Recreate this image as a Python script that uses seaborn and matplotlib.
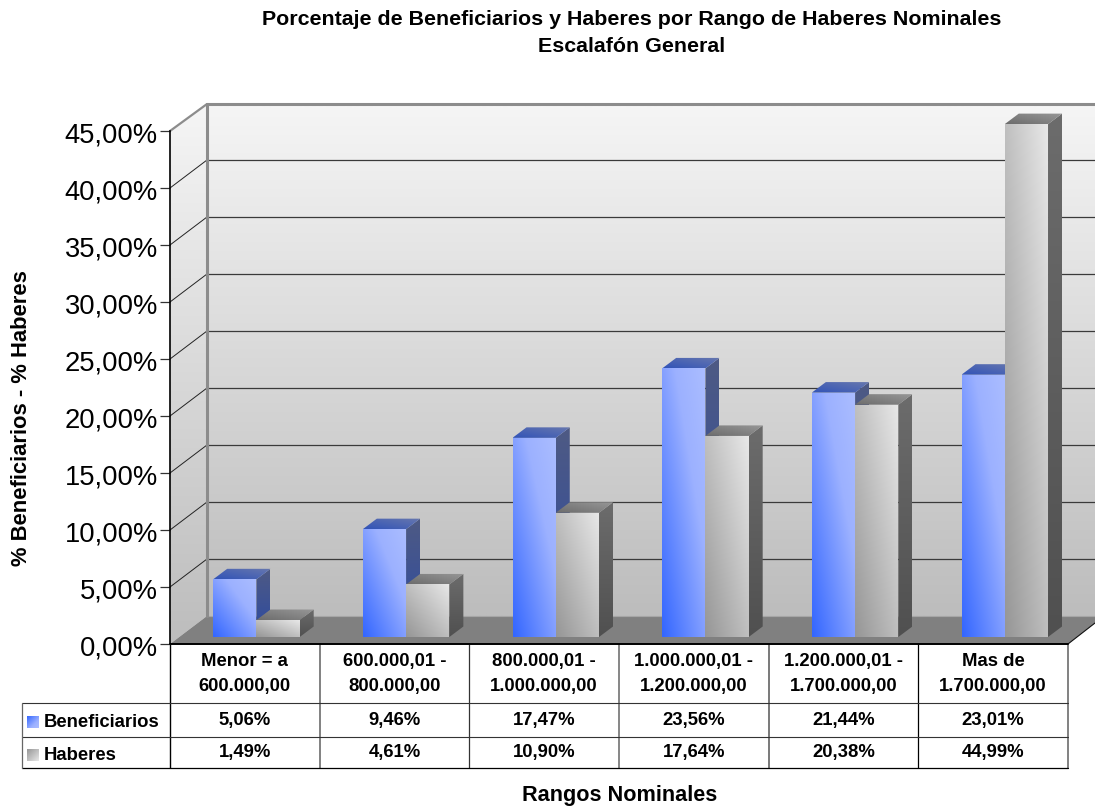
import numpy as np
import pandas as pd
import matplotlib
matplotlib.use("Agg")
import matplotlib.pyplot as plt
import seaborn as sns
from matplotlib.colors import to_rgb
from matplotlib.patches import Polygon
from matplotlib.ticker import FuncFormatter, MultipleLocator
from matplotlib.transforms import ScaledTranslation

categories = ["Menor = a\n600.000,00", "600.000,01 -\n800.000,00", "800.000,01 -\n1.000.000,00",
              "1.000.000,01 -\n1.200.000,00", "1.200.000,01 -\n1.700.000,00", "Mas de\n1.700.000,00"]
beneficiarios = [5.06, 9.46, 17.47, 23.56, 21.44, 23.01]
haberes = [1.49, 4.61, 10.90, 17.64, 20.38, 44.99]
series_names = ["Beneficiarios", "Haberes"]
title_text = "Porcentaje de Beneficiarios y Haberes por Rango de Haberes Nominales\nEscalafón General"
xlabel_text = "Rangos Nominales"
ylabel_text = "% Beneficiarios - % Haberes"

sns.set_theme(style="white")
plt.rcParams['font.family'] = ['Liberation Sans', 'DejaVu Sans']

W, H = 1095, 807
fig = plt.figure(figsize=(W / 100, H / 100), dpi=100, facecolor="white")


def frac(l, t, r, b):
    return [l / W, (H - b) / H, (r - l) / W, (b - t) / H]


def ramp(stops, n=64):
    ts = np.array([s[0] for s in stops])
    cols = np.array([to_rgb(s[1]) for s in stops])
    return lambda t: np.dstack([np.interp(t, ts, cols[:, i]) for i in range(3)])


def diag(n=64):
    u, v = np.meshgrid(np.linspace(0, 1, n), np.linspace(0, 1, n))
    return (u + v) / 2


def vert(n=64):
    return np.meshgrid(np.linspace(0, 1, 2), np.linspace(0, 1, n))[1]


def fill_poly(ax, pts, img, z):
    """Paint img (origin lower) on the bounding box of pts, clipped to the polygon."""
    pts = np.asarray(pts, float)
    x0, x1 = pts[:, 0].min(), pts[:, 0].max()
    y0, y1 = pts[:, 1].min(), pts[:, 1].max()
    if ax.yaxis_inverted():
        ext = (x0, x1, y1, y0)
    else:
        ext = (x0, x1, y0, y1)
    im = ax.imshow(img, extent=ext, origin="lower", aspect="auto", interpolation="bilinear", zorder=z)
    clip = Polygon(pts, closed=True, transform=ax.transData, fc="none", ec="none")
    im.set_clip_path(clip)
    return im


# ---------- background layer in figure pixels: walls, floor, table, texts
bg = fig.add_axes([0, 0, 1, 1], zorder=0)
bg.set_xlim(0, W)
bg.set_ylim(H, 0)
bg.set_autoscale_on(False)
bg.axis("off")

x_front, x_back, x_right = 170, 207, 1068
y_zero, y_floor, y_top_back, y_top_front = 644, 616, 104, 131
px_per_pct = (y_zero - y_top_front) / 45

wall = ramp([(0, "#bdbdbd"), (0.45, "#d6d6d6"), (1, "#f5f5f5")])
fill_poly(bg, [(x_back, y_floor), (W, y_floor), (W, y_top_back), (x_back, y_top_back)], wall(vert()), 1)
fill_poly(bg, [(x_front, y_zero), (x_back, y_floor), (x_back, y_top_back), (x_front, y_top_front)], wall(vert()), 1)
bg.add_patch(Polygon([(x_front, y_zero), (x_back, y_floor), (W, y_floor), (W, 623), (x_right, y_zero)],
                     closed=True, fc="#808080", ec="none", zorder=2))
bg.plot([x_back, W], [y_floor, y_floor], color="#a6a6a6", lw=0.8, zorder=3)

for k in np.arange(5, 45, 5):
    y_b = y_floor - k * px_per_pct
    y_f = y_zero - k * px_per_pct
    bg.plot([x_back, W], [y_b, y_b], color="#3a3a3a", lw=0.9, zorder=3)
    bg.plot([x_front, x_back], [y_f, y_b], color="#222222", lw=0.7, zorder=3)
bg.plot([x_back, x_back], [y_top_back, y_floor], color="#8c8c8c", lw=2.2, zorder=4)
bg.plot([x_back, W], [y_top_back, y_top_back], color="#8c8c8c", lw=2.2, zorder=4)
bg.plot([x_front, x_back], [y_top_front, y_top_back], color="#8c8c8c", lw=1.6, zorder=4)
bg.plot([x_right, W], [y_zero, 623], color="#111111", lw=0.8, zorder=4)

# table
col_x = np.linspace(x_front, x_right, len(categories) + 1)
row_y = [y_zero, 703, 736.5, 768]
leg_l = 22
col_colors = ["#000000", "#777777", "#333333", "#666666", "#555555", "#000000", "#777777"]
col_lw = [1.0, 1.3, 0.9, 1.1, 1.1, 0.9, 1.3]
for xc, cc, lw in zip(col_x, col_colors, col_lw):
    bg.plot([xc, xc], [y_zero, row_y[3]], color=cc, lw=lw, zorder=5, solid_capstyle="butt")
bg.plot([x_front, x_right], [y_zero, y_zero], color="#000000", lw=1.4, zorder=5)
bg.plot([leg_l, x_right], [row_y[1], row_y[1]], color="#333333", lw=0.8, zorder=5)
bg.plot([leg_l, x_right], [row_y[2], row_y[2]], color="#333333", lw=0.8, zorder=5)
bg.plot([leg_l, x_right], [row_y[3], row_y[3]], color="#000000", lw=0.9, zorder=5)
bg.plot([leg_l, leg_l], [row_y[1], row_y[3]], color="#666666", lw=0.9, zorder=5)

fs_cell = 13.3
centers = (col_x[:-1] + col_x[1:]) / 2
for cx, cat, b, h in zip(centers, categories, beneficiarios, haberes):
    bg.text(cx, 674, cat, ha="center", va="center", fontsize=fs_cell, fontweight="bold", color="black",
            linespacing=1.55, zorder=6)
    bg.text(cx, 721, f"{b:.2f}%".replace(".", ","), ha="center", va="center", fontsize=fs_cell,
            fontweight="bold", color="black", zorder=6)
    bg.text(cx, 753, f"{h:.2f}%".replace(".", ","), ha="center", va="center", fontsize=fs_cell,
            fontweight="bold", color="black", zorder=6)

blue_face = ramp([(0, "#3366ff"), (0.65, "#9cb1ff"), (1, "#abbdff")])
grey_face = ramp([(0, "#969696"), (1, "#e8e8e8")])
for name, yy, face in zip(series_names, (716, 749), (blue_face, grey_face)):
    fill_poly(bg, [(27, yy), (39, yy), (39, yy + 12), (27, yy + 12)], face(diag())[::-1], 6)
    bg.text(44, yy + 6.5, name, ha="left", va="center", fontsize=fs_cell, fontweight="bold", color="black", zorder=6)

bg.text(631.5, 33, title_text, ha="center", va="center", fontsize=15.4, fontweight="bold", color="black",
        linespacing=1.5, zorder=6)
bg.text(619.5, 795, xlabel_text, ha="center", va="center", fontsize=15.6, fontweight="bold", color="black", zorder=6)
bg.text(22, 418.5, ylabel_text, ha="center", va="center", rotation=90, fontsize=15.8, fontweight="bold",
        color="black", zorder=6)

# ---------- y axis with ticks
ay = fig.add_axes(frac(x_front, y_top_front, x_right, y_zero), zorder=2)
ay.patch.set_visible(False)
ay.set_ylim(0, 45)
ay.set_xticks([])
ay.yaxis.set_major_locator(MultipleLocator(5))
ay.yaxis.set_major_formatter(FuncFormatter(lambda v, _: f"{v:.2f}%".replace(".", ",")))
ay.tick_params(axis="y", left=True, length=7.2, width=0.9, color="#333333", pad=1.5, labelsize=19.7, labelcolor="black")
for s in ("top", "right", "bottom"):
    ay.spines[s].set_visible(False)
ay.spines["left"].set_color("black")
ay.spines["left"].set_linewidth(1.2)
label_shift = ScaledTranslation(0, -1 / 72, fig.dpi_scale_trans)
for lab in ay.get_yticklabels():
    lab.set_transform(lab.get_transform() + label_shift)

# ---------- bars: shifted into the box by the depth of the floor
bar_dx, bar_dy = 11.6, 7
y_room = 50
ax = fig.add_axes(frac(x_front + bar_dx, y_zero - bar_dy - y_room * px_per_pct, x_right + bar_dx, y_zero - bar_dy),
                  zorder=1)
df = pd.DataFrame({
    "Rango": categories * 2,
    "Porcentaje": beneficiarios + haberes,
    "Serie": [series_names[0]] * len(categories) + [series_names[1]] * len(categories),
})
sns.barplot(data=df, x="Rango", y="Porcentaje", hue="Serie", hue_order=series_names, order=categories,
            palette=["#7f99ff", "#c0c0c0"], width=0.578, gap=0, legend=False, saturation=1, ax=ax)
ax.set_xlim(-0.5, len(categories) - 0.5)
ax.set_ylim(0, y_room)
ax.set_autoscale_on(False)
ax.axis("off")

depth_x = 14 / (col_x[1] - col_x[0])
depth_y = 10.5 / px_per_pct

faces = [blue_face, grey_face]
sides = [ramp([(0, "#2c4aa3"), (1, "#4e5a84")]), ramp([(0, "#505050"), (1, "#6c6c6c")])]
tops = [ramp([(0, "#3153b8"), (1, "#6878ae")]), ramp([(0, "#6c6c6c"), (1, "#979797")])]

for c in range(len(categories)):
    for s, cont in enumerate(ax.containers):
        p = cont.patches[c]
        x, w, h = p.get_x(), p.get_width(), p.get_height()
        z = 10 + c * 10 + s * 4
        p.set_zorder(z)
        p.set_edgecolor("none")
        front = [(x, 0), (x + w, 0), (x + w, h), (x, h)]
        side = [(x + w, 0), (x + w + depth_x, depth_y), (x + w + depth_x, h + depth_y), (x + w, h)]
        top = [(x, h), (x + w, h), (x + w + depth_x, h + depth_y), (x + depth_x, h + depth_y)]
        fill_poly(ax, side, sides[s](vert()), z + 1)
        fill_poly(ax, top, tops[s](diag()), z + 1)
        fill_poly(ax, front, faces[s](diag()), z + 2)

ax.set_xlim(-0.5, len(categories) - 0.5)
ax.set_ylim(0, y_room)

fig.savefig("out.png", dpi=100, facecolor="white")
